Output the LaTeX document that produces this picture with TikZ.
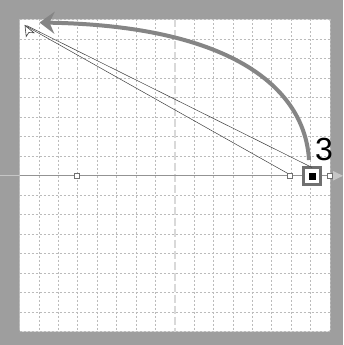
\documentclass[tikz,border=0pt]{standalone}
\usepackage{fontspec}
\setmainfont{Liberation Sans}
\usetikzlibrary{arrows.meta}
\definecolor{framegray}{HTML}{9E9E9E}
\definecolor{gridgray}{HTML}{BBBBBB}
\definecolor{arcgray}{HTML}{858585}
\definecolor{ptgray}{HTML}{707070}
\begin{document}
\begin{tikzpicture}[x=1pt,y=-1pt,
  gridline/.style={gridgray, line width=0.7pt, dash pattern=on 2pt off 2pt},
  centerline/.style={gray!30, line width=1.6pt, dash pattern=on 8pt off 3pt},
  smallpt/.style={draw=ptgray, fill=white, line width=0.8pt, minimum size=5pt, inner sep=0pt, outer sep=0pt},
  bigpt/.style={draw=ptgray, fill=white, line width=3.5pt, minimum size=17pt, inner sep=0pt, outer sep=0pt},
  thinline/.style={black!75, line width=0.5pt},
  arcline/.style={arcgray, line width=4pt, -{Stealth[length=15pt,width=22pt,inset=5pt]}}
]
\useasboundingbox (0,0) rectangle (343,345);
\fill[framegray] (0,0) rectangle (343,345);
\fill[white, rounded corners=2pt] (19.5,19.5) rectangle (330,331.5);
% grid
\foreach \i in {0,...,16}{
  \ifnum\i=8\relax\else
  \draw[gridline] ({19.5+\i*19.406},19.5) -- ({19.5+\i*19.406},331.5);
  \draw[gridline] (19.5,{19.5+\i*19.5}) -- (330,{19.5+\i*19.5});
  \fi
}
\draw[centerline] (174.75,19.5) -- (174.75,331.5);
% horizontal axis
\draw[gray!45, line width=1pt] (0,175.8) -- (334,175.8);
\fill[gray!45] (333,171) -- (343,175.8) -- (333,180.6) -- cycle;
\draw[gray!85, line width=1pt] (19.5,175.8) -- (330,175.8);
% cursor
\coordinate (c) at (25,25.5);
\draw[black!75, line width=0.6pt, fill=white] (c) -- (26.2,36.5) -- (28.8,32.5) -- (34,32.8) -- cycle;
% points
\node[bigpt] (p3) at (312,176) {};
\fill[black] (308.5,172.5) rectangle (315.5,179.5);
\node[smallpt] (p1) at (77,175.8) {};
\node[smallpt] (p2) at (290,175.8) {};
\node[smallpt] (p4) at (330,175.8) {};
% thin lines
\draw[thinline] (c) -- (p2.north west);
\draw[thinline] ([xshift=1.5pt]c) -- (p3.north);
% label
\node[font=\fontsize{32}{32}\selectfont, inner sep=0pt] (lbl) at (324,149.5) {3};
% arc
\coordinate (arcS) at (309,160);
\coordinate (arcE) at (39.5,22.5);
\draw[arcline] (arcS) .. controls (305,90) and (235,26) .. (arcE);
\end{tikzpicture}
\end{document}
